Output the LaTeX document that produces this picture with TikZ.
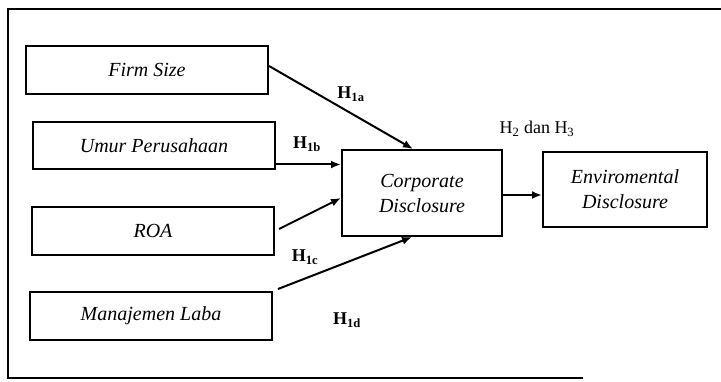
\documentclass[tikz,border=0pt]{standalone}
\usepackage{fontspec}
\setmainfont{Liberation Serif}
\usetikzlibrary{arrows.meta, positioning, calc}
\tikzstyle{varbox} = [rectangle, draw, line width=2pt, minimum width=242pt, minimum height=48pt, text centered, font=\fontsize{20}{24}\selectfont\itshape]
\tikzstyle{mainbox} = [rectangle, draw, line width=2pt, text width=150pt, align=center, font=\fontsize{20}{25}\selectfont\itshape]
\tikzstyle{hyp} = [font=\fontsize{18}{20}\selectfont\bfseries]
\tikzstyle{line} = [draw, -{Latex[length=10pt, width=8pt]}, line width=2pt]

\begin{document}
\begin{tikzpicture}[x=1pt, y=-1pt]
        \useasboundingbox (0,0) rectangle (721,382);
        % Frame
        \draw [line width=2.2pt] (721,9) -- (8,9) -- (8,378) -- (583,378);

        % Nodes
        \node [varbox] (fs) at (147,70) {Firm Size};
        \node [varbox, minimum height=47pt] (umur) at (154,145.5) {Umur Perusahaan};
        \node [varbox] (roa) at (153,231) {ROA};
        \node [varbox] (laba) at (151,316) {Manajemen Laba};
        \node [mainbox, minimum width=160pt, minimum height=86pt] (cd) at (422,193) {Corporate\\Disclosure};
        \node [mainbox, minimum width=164pt, minimum height=75pt] (ed) at (625,189.5) {Enviromental\\Disclosure};

        % Labels
        \node [hyp] (h1a) at (351,94) {H\textsubscript{1a}};
        \node [hyp] (h1b) at (307,144) {H\textsubscript{1b}};
        \node [hyp] (h1c) at (305,257) {H\textsubscript{1c}};
        \node [hyp] (h1d) at (347,320) {H\textsubscript{1d}};
        \node [font=\fontsize{18}{20}\selectfont] (h23) at (537,129) {H\textsubscript{2} dan H\textsubscript{3}};

        % Edges
        \coordinate (ub) at ([yshift=-19pt]umur.east);
        \path [line] ([yshift=4pt]fs.east) -- ([xshift=-9pt]cd.north);
        \path [line] (ub) -- (ub -| cd.west);
        \path [line] ([xshift=4pt,yshift=2pt]roa.east) -- ([yshift=-5pt]cd.west);
        \path [line] ([xshift=5pt,yshift=2pt]laba.north east) -- ([xshift=-10pt]cd.south);
        \path [line] ([yshift=-2pt]cd.east) -- ([yshift=-2pt]cd.east -| ed.west);
    \end{tikzpicture}
\end{document}
